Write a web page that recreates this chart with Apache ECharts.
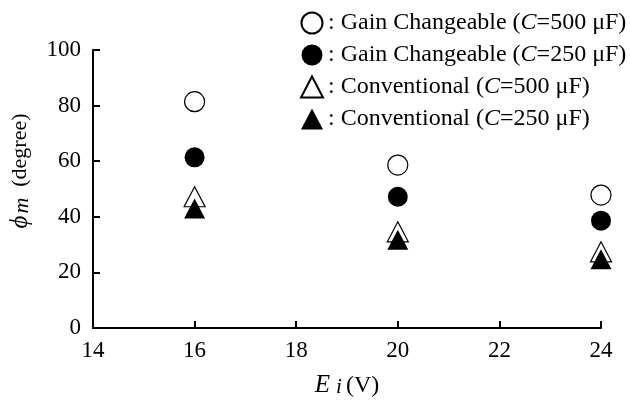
<!DOCTYPE html>
<html>
<head>
<meta charset="utf-8">
<script src="https://cdn.jsdelivr.net/npm/echarts@6/dist/echarts.min.js"></script>
<style>
  html, body { margin: 0; padding: 0; background: #fff; }
  #chart { width: 630px; height: 403px; }
</style>
</head>
<body>
<div id="chart"></div>
<script>
// Input voltage E_i (V)
const voltages = [16, 20, 24];
// Phase margin phi_m (degree) for each controller / capacitance
const gainC500 = [81.4, 58.6, 47.8];
const gainC250 = [61.4, 47.2, 38.6];
const convC500 = [47.2, 34.6, 27.4];
const convC250 = [43.0, 31.7, 24.7];

const seriesNames = [
  'Gain Changeable (C=500 \u03bcF)',
  'Gain Changeable (C=250 \u03bcF)',
  'Conventional (C=500 \u03bcF)',
  'Conventional (C=250 \u03bcF)'
];

const FONT = '"Liberation Serif", "Times New Roman", serif';
const FS = 23;
const LEGEND_FS = 24;

function pts(vals) {
  return voltages.map((v, i) => [v, vals[i]]);
}

function makeSeries(name, vals, symbol, filled, z) {
  return {
    name: name,
    type: 'scatter',
    data: pts(vals),
    symbol: symbol,
    symbolSize: symbol === 'triangle' ? [21, 20] : 20,
    z: z,
    itemStyle: {
      color: filled ? '#000' : '#fff',
      borderColor: '#000',
      borderWidth: filled ? 0 : 1.2,
      opacity: 1
    },
    emphasis: { disabled: true }
  };
}

const chart = echarts.init(document.getElementById('chart'), null, { renderer: 'canvas' });

chart.setOption({
  animation: false,
  backgroundColor: '#fff',
  grid: { left: 93, right: 29, top: 50, bottom: 75, containLabel: false },
  legend: {
    orient: 'vertical',
    left: 300,
    top: 11,
    padding: 0,
    itemWidth: 22,
    itemHeight: 21,
    itemGap: 8,
    selectedMode: false,
    data: seriesNames,
    formatter: function (name) {
      return ': ' + name.replace('C=', '{it|C}=');
    },
    textStyle: {
      fontFamily: FONT,
      fontSize: LEGEND_FS,
      color: '#000',
      rich: {
        it: { fontFamily: FONT, fontSize: LEGEND_FS, fontStyle: 'italic', color: '#000' }
      }
    }
  },
  xAxis: {
    type: 'value',
    min: 14,
    max: 24,
    interval: 2,
    name: '{e|E}{s|i}{t|(V)}',
    nameLocation: 'middle',
    nameGap: 46,
    nameTextStyle: {
      fontFamily: FONT,
      fontSize: FS,
      color: '#000',
      rich: {
        e: { fontFamily: FONT, fontSize: 25, fontStyle: 'italic', color: '#000', verticalAlign: 'bottom', lineHeight: 24 },
        s: { fontFamily: FONT, fontSize: 21, fontStyle: 'italic', color: '#000', verticalAlign: 'bottom', lineHeight: 16, padding: [0, 4, 0, 6] },
        t: { fontFamily: FONT, fontSize: 24, color: '#000', verticalAlign: 'bottom', lineHeight: 24 }
      }
    },
    axisLine: { show: true, lineStyle: { color: '#000', width: 2 } },
    axisTick: { show: true, inside: true, length: 7, lineStyle: { color: '#000', width: 2 } },
    axisLabel: { fontFamily: FONT, fontSize: FS, color: '#000', margin: 11 },
    splitLine: { show: false }
  },
  yAxis: {
    type: 'value',
    min: 0,
    max: 100,
    interval: 20,
    name: '{p|\u03d5}{s|m}  (degree)',
    nameLocation: 'middle',
    nameGap: 60,
    nameRotate: 90,
    nameTextStyle: {
      fontFamily: FONT,
      fontSize: 22,
      color: '#000',
      padding: [0, 0, 0, 36],
      rich: {
        p: { fontFamily: FONT, fontSize: 25, fontStyle: 'italic', color: '#000', verticalAlign: 'bottom', lineHeight: 26 },
        s: { fontFamily: FONT, fontSize: 22, fontStyle: 'italic', color: '#000', verticalAlign: 'bottom', lineHeight: 16, padding: [0, 0, 0, 2] }
      }
    },
    axisLine: { show: true, lineStyle: { color: '#000', width: 2 } },
    axisTick: { show: true, inside: true, length: 7, lineStyle: { color: '#000', width: 2 } },
    axisLabel: { fontFamily: FONT, fontSize: FS, color: '#000', margin: 12 },
    splitLine: { show: false }
  },
  series: [
    makeSeries(seriesNames[0], gainC500, 'circle', false, 2),
    makeSeries(seriesNames[1], gainC250, 'circle', true, 2),
    makeSeries(seriesNames[2], convC500, 'triangle', false, 2),
    makeSeries(seriesNames[3], convC250, 'triangle', true, 3)
  ]
});
</script>
</body>
</html>
